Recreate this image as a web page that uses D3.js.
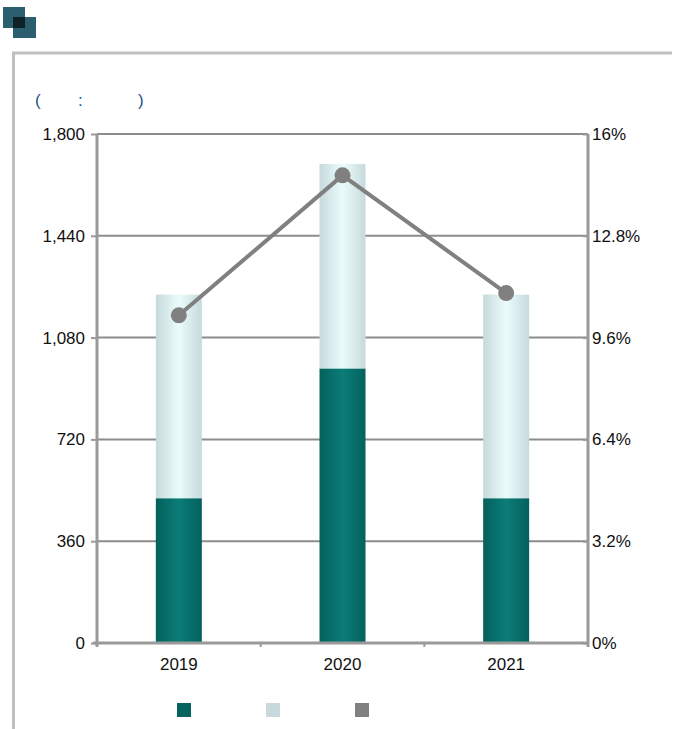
<!DOCTYPE html>
<html><head><meta charset="utf-8">
<script src="https://cdn.jsdelivr.net/npm/d3@7"></script>
<style>
html,body{margin:0;padding:0;background:#fff;}
svg{display:block;font-family:Arial,"Liberation Sans",sans-serif;}
</style></head>
<body><svg id="c" width="673" height="729"></svg>
<script>
const categories = ["2019","2020","2021"];
const lowerValues = [512, 971, 512];
const upperValues = [720, 723, 720];
const rateValues = [10.3, 14.7, 11.0];
const leftTicks = [0, 360, 720, 1080, 1440, 1800];
const rightTicks = [0, 3.2, 6.4, 9.6, 12.8, 16];
const legendLabels = ["", "", ""];
const unitParts = ["(", ":", ")"];

(function(){
const svg = d3.select("#c");
const defs = svg.append("defs");
function grad(id, edge, mid){
  const g = defs.append("linearGradient").attr("id", id).attr("x1","0").attr("x2","1").attr("y1","0").attr("y2","0");
  g.append("stop").attr("offset","0%").attr("stop-color", edge);
  g.append("stop").attr("offset","50%").attr("stop-color", mid);
  g.append("stop").attr("offset","100%").attr("stop-color", edge);
}
grad("gDark", "#04615c", "#0b7c78");
grad("gLight", "#c6d9dc", "#ecfcfc");

const FS = 17;

// icon
svg.append("rect").attr("x",3).attr("y",7).attr("width",22).attr("height",21).attr("fill","#2b5e6e");
svg.append("rect").attr("x",13).attr("y",17).attr("width",23).attr("height",21).attr("fill","#2b5e6e");
svg.append("rect").attr("x",13).attr("y",17).attr("width",12).attr("height",11).attr("fill","#0f2128");

// panel border
svg.append("path").attr("d","M13.5,729 V53 H672").attr("fill","none").attr("stroke","#c0c0c0").attr("stroke-width",3);

// unit label
const ut = svg.append("text").attr("y",106).attr("fill","#1f4e8c").attr("font-size",FS);
const ux = [35, 78, 138];
unitParts.forEach((p,i)=>ut.append("tspan").attr("x",ux[i]).text(p));

const pL = 97, pR = 588, pT = 134, pB = 643;
const x = d3.scaleBand().domain(categories).range([pL,pR]).paddingInner(0).paddingOuter(0);
const y = d3.scaleLinear().domain([0,1800]).range([pB,pT]);
const y2 = d3.scaleLinear().domain([0,16]).range([pB,pT]);

// grid
svg.append("g").selectAll("line").data(leftTicks.filter(d=>d>0)).join("line")
  .attr("x1",pL).attr("x2",pR).attr("y1",d=>y(d)).attr("y2",d=>y(d))
  .attr("stroke","#8c8c8c").attr("stroke-width",2);

// bars
const bw = 46;
const bars = svg.append("g");
categories.forEach((c,i)=>{
  const cx = x(c) + x.bandwidth()/2;
  bars.append("rect").attr("x",cx-bw/2).attr("width",bw)
    .attr("y",y(lowerValues[i])).attr("height",y(0)-y(lowerValues[i])).attr("fill","url(#gDark)");
  bars.append("rect").attr("x",cx-bw/2).attr("width",bw)
    .attr("y",y(lowerValues[i]+upperValues[i])).attr("height",y(lowerValues[i])-y(lowerValues[i]+upperValues[i])).attr("fill","url(#gLight)");
});

// axes
const axisColor = "#9a9a9a";
const ga = svg.append("g").attr("transform",`translate(${pL},0)`).call(d3.axisLeft(y).tickValues(leftTicks).tickSize(6).tickPadding(6).tickFormat(d3.format(",")));
const gb = svg.append("g").attr("transform",`translate(${pR},0)`).call(d3.axisRight(y2).tickValues(rightTicks).tickSize(4).tickPadding(0).tickFormat(d=>d+"%"));
const gx = svg.append("g").attr("transform",`translate(0,${pB})`).call(d3.axisBottom(x).tickSize(0).tickPadding(15));
[ga,gb,gx].forEach(g=>{
  g.attr("font-size",FS).attr("font-family","Arial, 'Liberation Sans', sans-serif");
  g.select(".domain").attr("stroke",axisColor).attr("stroke-width",3);
  g.selectAll(".tick line").attr("stroke",axisColor).attr("stroke-width",2);
  g.selectAll("text").attr("fill","#111");
});
ga.select(".domain").attr("d",`M0,${pT}V${pB+4}`);
gb.select(".domain").attr("d",`M0,${pT}V${pB+4}`);
gb.selectAll(".tick line").attr("x1",-5).attr("x2",0);
gx.select(".domain").attr("d",`M${pL-4},0H${pR}`);
const bounds = categories.map(c=>x(c)).concat([pR]);
gx.selectAll(".bt").data(bounds).join("line").attr("class","bt")
  .attr("x1",d=>d).attr("x2",d=>d).attr("y1",0).attr("y2",4).attr("stroke",axisColor).attr("stroke-width",2);

// line
const pts = categories.map((c,i)=>[x(c)+x.bandwidth()/2, y2(rateValues[i])]);
svg.append("path").attr("d",d3.line()(pts)).attr("fill","none").attr("stroke","#808080").attr("stroke-width",4);
svg.append("g").selectAll("circle").data(pts).join("circle").attr("cx",d=>d[0]).attr("cy",d=>d[1]).attr("r",8).attr("fill","#808080");

// legend
const legColors = ["#04635e","#c8d9dd","#808080"];
const lg = svg.append("g");
legendLabels.forEach((l,i)=>{
  const lx = 177 + i*89;
  lg.append("rect").attr("x",lx).attr("y",703).attr("width",14).attr("height",14).attr("fill",legColors[i]);
  lg.append("text").attr("x",lx+20).attr("y",716).attr("font-size",FS).attr("fill","#111").text(l);
});
})();
</script></body></html>
